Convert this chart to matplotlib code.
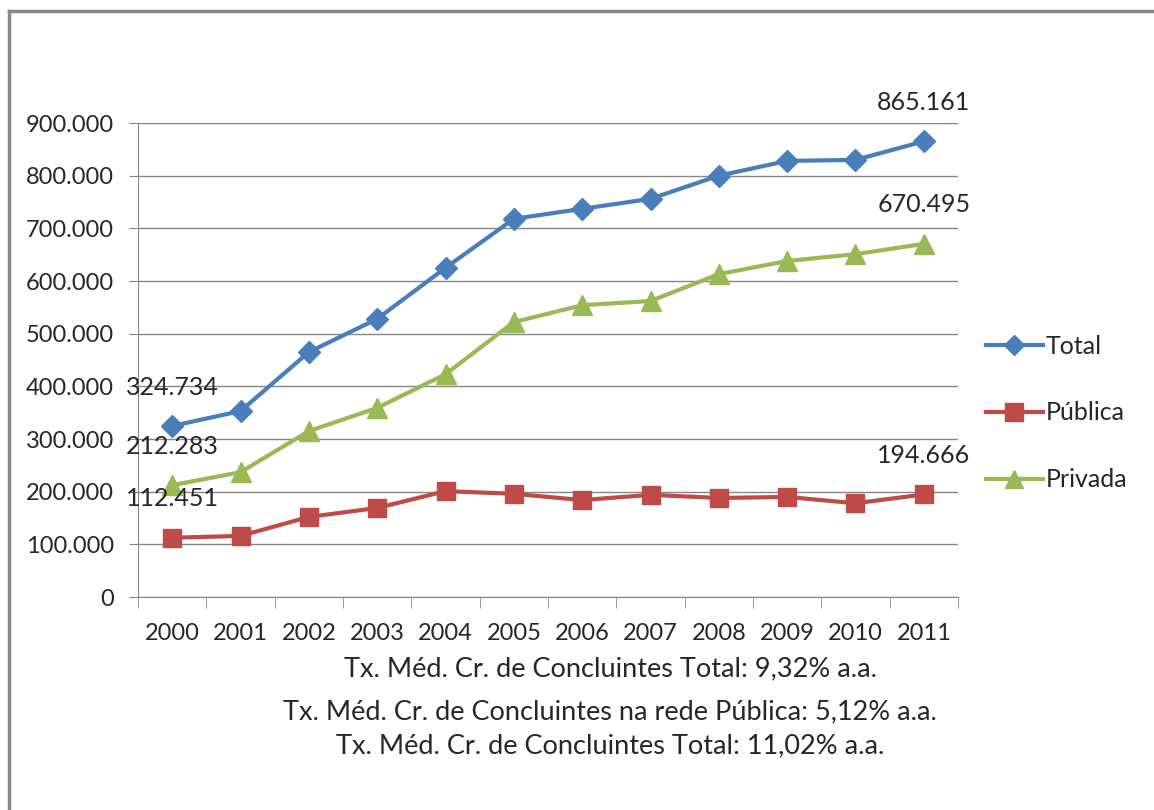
import matplotlib
matplotlib.use("Agg")
import matplotlib.pyplot as plt
from matplotlib.ticker import FuncFormatter, FixedLocator
from matplotlib.lines import Line2D

# dados: concluintes por ano
anos = ["2000", "2001", "2002", "2003", "2004", "2005",
        "2006", "2007", "2008", "2009", "2010", "2011"]
total = [324734, 353000, 465000, 528000, 625000, 718000,
         737000, 756000, 800000, 828000, 830000, 865161]
publica = [112451, 116000, 152000, 169000, 201000, 196000,
           184000, 194000, 188000, 190000, 178000, 194666]
privada = [212283, 237000, 315000, 359000, 423000, 522000,
           554000, 562000, 613000, 638000, 651000, 670495]

notas = ["Tx. Méd. Cr. de Concluintes Total: 9,32% a.a.",
         "Tx. Méd. Cr. de Concluintes na rede Pública: 5,12% a.a.",
         "Tx. Méd. Cr. de Concluintes Total: 11,02% a.a."]

plt.rcParams['font.family'] = ['Lato', 'DejaVu Sans']
cor_texto = "#262626"
cor_grade = "#868686"

fig = plt.figure(figsize=(11.54, 8.10), dpi=100)
ax = fig.add_axes([138/1154, 1-597/810, (958-138)/1154, (597-123)/810])

x = list(range(len(anos)))
l1, = ax.plot(x, total, color="#4A7EBB", lw=3, marker="D", ms=11, label="Total")
l2, = ax.plot(x, publica, color="#BE4B48", lw=3, marker="s", ms=13, label="Pública")
l3, = ax.plot(x, privada, color="#98B954", lw=3, marker="^", ms=14, label="Privada")

def fmt(v, pos=None):
    return "{:,.0f}".format(v).replace(",", ".")

# rótulos só no primeiro e último ponto
for serie in (total, publica, privada):
    for i in (0, len(serie) - 1):
        ax.annotate(fmt(serie[i]), (x[i], serie[i]), xytext=(0, 28),
                    textcoords="offset points", ha="center", va="center",
                    fontsize=18, color=cor_texto)

ax.set_xlim(-0.5, len(anos) - 0.5)
ax.set_ylim(0, 900000)
ax.set_yticks(range(0, 900001, 100000))
ax.yaxis.set_major_formatter(FuncFormatter(fmt))
ax.set_xticks(x)
ax.set_xticklabels(anos)
ax.xaxis.set_minor_locator(FixedLocator([i - 0.5 for i in range(len(anos) + 1)]))
ax.tick_params(axis="x", which="major", length=0, pad=19, labelsize=17, labelcolor=cor_texto)
ax.tick_params(axis="x", which="minor", length=8, color=cor_grade, direction="out")
ax.tick_params(axis="y", length=6.5, color=cor_grade, labelsize=17, labelcolor=cor_texto, pad=11)
ax.grid(axis="y", color=cor_grade, lw=1)
ax.set_axisbelow(True)
for s in ("top", "right"):
    ax.spines[s].set_visible(False)
for s in ("left", "bottom"):
    ax.spines[s].set_color(cor_grade)

fig.legend(handles=[l1, l2, l3], loc="center left", bbox_to_anchor=(963/1154, 1-413/810),
           frameon=False, fontsize=18, handlelength=2.3, labelspacing=1.75,
           handletextpad=0.12, labelcolor=cor_texto, markerscale=0.95)

for t, yy in zip(notas, (669, 712, 746)):
    fig.text(610/1154, 1-yy/810, t, ha="center", va="center", fontsize=19.5, color=cor_texto)

# moldura do gráfico
fig.add_artist(Line2D([9/1154, 9/1154], [0, 1-11/810], color="#888888", lw=2.5))
fig.add_artist(Line2D([9/1154, 1], [1-11/810, 1-11/810], color="#888888", lw=2.5))

fig.savefig("out.png", dpi=100, facecolor="white")
